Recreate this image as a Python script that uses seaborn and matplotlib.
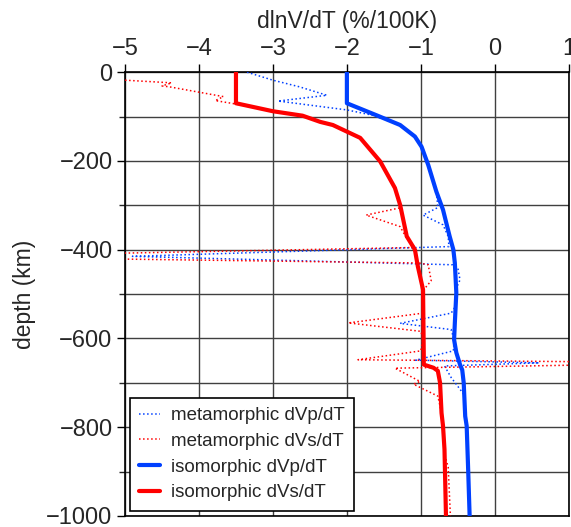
import matplotlib
matplotlib.use("Agg")
import matplotlib.pyplot as plt
import seaborn as sns
import pandas as pd
from matplotlib.ticker import MultipleLocator

# ---- data (depth in km, value in %/100K) ----
iso_vp_depth = [0, -70, -97, -119, -145, -168, -209, -269, -310, -370, -400, -430, -497,
                -565, -603, -632, -659, -671, -700, -775, -797, -895, -1000]
iso_vp_val = [-2.0, -2.0, -1.60, -1.28, -1.08, -0.99, -0.90, -0.79, -0.70, -0.61, -0.56, -0.54, -0.52,
              -0.54, -0.55, -0.52, -0.47, -0.44, -0.42, -0.40, -0.38, -0.36, -0.34]

iso_vs_depth = [0, -70, -88, -98, -112, -119, -148, -201, -261, -299, -370, -400, -438, -490,
                -640, -659, -666, -673, -700, -768, -797, -850, -1000]
iso_vs_val = [-3.5, -3.5, -3.0, -2.6, -2.36, -2.19, -1.82, -1.55, -1.35, -1.28, -1.19, -1.08, -1.04, -0.97,
              -0.96, -0.96, -0.83, -0.77, -0.74, -0.72, -0.70, -0.68, -0.66]

meta_vp_depth = [0, -18, -33, -52, -65, -85, -97, -119, -145, -168, -209, -269, -305, -322, -344,
                 -370, -393, -415, -434, -441, -468, -487, -497, -530, -543, -566, -580, -603, -628,
                 -649, -655, -662, -688, -730, -775, -797, -895, -1000]
meta_vp_val = [-3.35, -3.0, -2.64, -2.27, -2.93, -2.0, -1.65, -1.28, -1.08, -0.99, -0.90, -0.79, -0.77, -0.97, -0.70,
               -0.63, -0.62, -4.9, -0.57, -0.50, -0.47, -0.52, -0.52, -0.54, -0.59, -1.28, -0.59, -0.55, -0.56,
               -1.07, 0.6, -0.68, -0.59, -0.40, -0.41, -0.38, -0.36, -0.34]

meta_vs_depth = [-18, -24, -31, -33, -55, -64, -72, -88, -98, -112, -119, -148, -201, -261, -306, -322, -348,
                 -372, -395, -408, -421, -430, -434, -470, -484, -492, -543, -565, -584, -600, -628, -648,
                 -653, -659, -667, -697, -703, -730, -768, -860, -890, -1000]
meta_vs_val = [-5.0, -4.37, -4.50, -4.40, -3.67, -3.78, -3.49, -3.0, -2.6, -2.36, -2.19, -1.82, -1.55, -1.35, -1.29, -1.74, -1.28,
               -1.20, -1.08, -5.1, -5.1, -1.02, -0.90, -0.86, -0.93, -0.97, -0.97, -1.98, -1.0, -0.97, -1.0, -1.85,
               1.5, 1.5, -1.35, -1.01, -1.10, -0.77, -0.72, -0.68, -0.63, -0.60]

BLUE = "#0040ff"
RED = "#ff0000"

sns.set_style("ticks")
plt.rcParams["font.family"] = ["Liberation Sans", "DejaVu Sans"]

fig = plt.figure(figsize=(5.71, 5.27), dpi=100)
ax = fig.add_axes([0.219, 0.021, 0.777, 0.842])

series = [
    (meta_vp_val, meta_vp_depth, "metamorphic dVp/dT", BLUE, ":", 1.1),
    (meta_vs_val, meta_vs_depth, "metamorphic dVs/dT", RED, ":", 1.1),
    (iso_vp_val, iso_vp_depth, "isomorphic dVp/dT", BLUE, "-", 3.0),
    (iso_vs_val, iso_vs_depth, "isomorphic dVs/dT", RED, "-", 3.0),
]
for xv, yv, lab, col, ls, lw in series:
    df = pd.DataFrame({"v": xv, "d": yv})
    sns.lineplot(data=df, x="v", y="d", sort=False, estimator=None, ax=ax,
                 color=col, linestyle=ls, linewidth=lw, label=lab, zorder=3)

ax.set_xlim(-5, 1)
ax.set_ylim(-1000, 0)
ax.set_xticks(range(-5, 2))
ax.set_yticks(range(-1000, 1, 200))
ax.yaxis.set_minor_locator(MultipleLocator(100))
ax.xaxis.tick_top()
ax.xaxis.set_label_position("top")
ax.grid(True, which="major", color="0.25", linewidth=1.0, zorder=0)
ax.grid(True, which="minor", axis="y", color="0.25", linewidth=1.0, zorder=0)
ax.tick_params(axis="both", which="major", labelsize=17, length=6, width=1.0, direction="out", color="black")
ax.tick_params(axis="y", which="major", pad=3)
ax.tick_params(axis="x", which="major", pad=3)
ax.tick_params(axis="y", which="minor", length=4, width=1.0, direction="out")
for s in ax.spines.values():
    s.set_color("black")
    s.set_linewidth(1.2)

ax.set_xlabel("dlnV/dT (%/100K)", fontsize=16.5)
ax.xaxis.set_label_coords(0.5, 1.10)
ax.set_ylabel("depth (km)", fontsize=16.5)
ax.yaxis.set_label_coords(-0.20, 0.5)

leg = ax.legend(loc="lower left", fontsize=13.5, frameon=True, fancybox=False,
                borderaxespad=0.27, handlelength=1.12, labelspacing=0.46, borderpad=0.5,
                handletextpad=0.55)
leg.get_frame().set_edgecolor("black")
leg.get_frame().set_linewidth(1.2)
leg.get_frame().set_alpha(1)

fig.savefig("out.png", dpi=100)
